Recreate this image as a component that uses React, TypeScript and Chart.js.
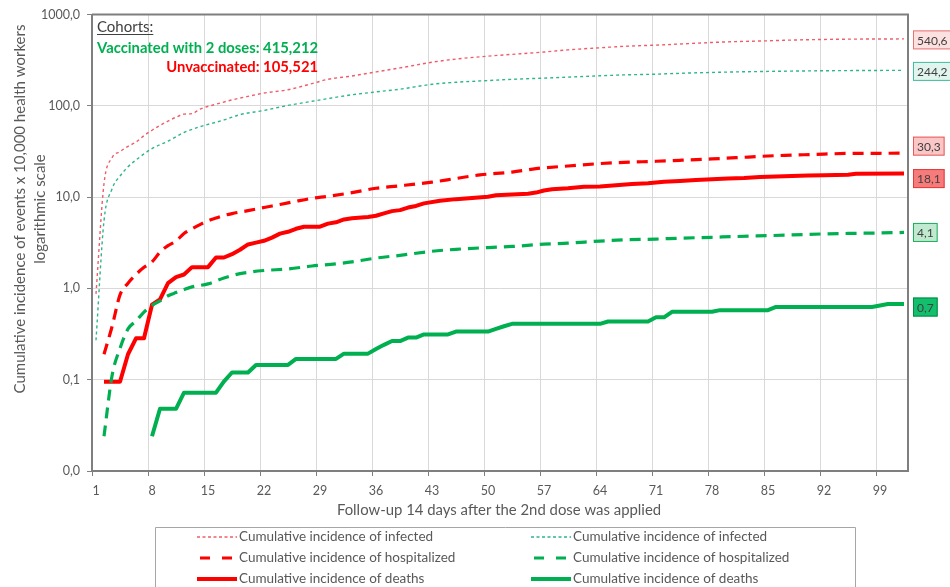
import { useEffect, useRef } from "react";
import { Chart, registerables } from "chart.js";

Chart.register(...registerables);

const FONT = "Lato, 'Liberation Sans', Arial, sans-serif";
const GREY_TEXT = "#595959";

// Axis ticks
const xTickDays = [1, 8, 15, 22, 29, 36, 43, 50, 57, 64, 71, 78, 85, 92, 99];
const yTickValues = [0.01, 0.1, 1, 10, 100, 1000];

// Texts
const yTitleLines = ["Cumulative incidence of events x 10,000 health workers", "logarithmic scale"];
const xTitle = "Follow-up 14 days after the 2nd dose was applied";
const cohortTitle = "Cohorts:";
const vaccinatedCohort = "Vaccinated with 2 doses: 415,212";
const unvaccinatedCohort = "Unvaccinated: 105,521";
const labelInfected = "Cumulative incidence of infected";
const labelHospitalized = "Cumulative incidence of hospitalized";
const labelDeaths = "Cumulative incidence of deaths";

// Unvaccinated cohort (per 10,000)
const unvacInfectedDays = [1, 2, 3, 4, 5, 6, 7, 8, 9, 10, 11, 12, 13, 14, 16, 18, 20, 22, 25, 28, 30, 33, 36, 39, 43, 46, 50, 53, 57, 60, 64, 67, 71, 74, 78, 81, 85, 88, 92, 95, 99, 102];
const unvacInfectedValues = [0.87, 14, 27, 31.5, 36, 40, 47, 54, 61, 68, 75, 81, 82, 92, 104, 116, 127, 138, 150, 175, 195, 212, 235, 260, 300, 325, 350, 366, 388, 410, 432, 448, 462, 475, 494, 505, 515, 525, 533, 537, 539, 540.6];

const unvacHospDays = [2, 3, 4, 5, 6, 7, 8, 9, 10, 11, 12, 13, 14, 15, 16, 17, 18, 20, 22, 24, 26, 28, 30, 33, 36, 39, 43, 46, 49, 53, 56, 60, 64, 67, 71, 74, 78, 81, 85, 88, 92, 95, 99, 102];
const unvacHospValues = [0.19, 0.38, 0.85, 1.14, 1.42, 1.7, 1.95, 2.5, 2.94, 3.3, 4.0, 4.5, 5.0, 5.5, 5.9, 6.3, 6.6, 7.1, 7.7, 8.3, 9.0, 9.7, 10.2, 11.2, 12.5, 13.3, 14.6, 16.0, 17.5, 18.8, 20.5, 21.9, 23.3, 24.0, 24.7, 25.3, 26.2, 27.0, 28.2, 28.8, 29.6, 30.1, 30.2, 30.3];

const unvacDeathDays = [2, 4, 5, 6, 7, 8, 9, 10, 11, 12, 13, 15, 16, 17, 18, 19, 20, 21, 22, 23, 24, 25, 26, 27, 29, 30, 31, 32, 33, 35, 36, 37, 38, 39, 40, 41, 42, 44, 46, 48, 50, 51, 53, 55, 56, 57, 58, 60, 62, 64, 66, 68, 70, 72, 74, 76, 78, 80, 82, 84, 86, 88, 90, 92, 95, 96, 102];
const unvacDeathValues = [0.095, 0.095, 0.19, 0.284, 0.284, 0.663, 0.758, 1.14, 1.33, 1.42, 1.71, 1.71, 2.18, 2.18, 2.37, 2.65, 3.03, 3.17, 3.32, 3.6, 3.98, 4.17, 4.5, 4.74, 4.74, 5.12, 5.3, 5.69, 5.88, 6.06, 6.25, 6.64, 7.02, 7.2, 7.68, 8.0, 8.54, 9.1, 9.5, 9.8, 10.1, 10.5, 10.7, 10.9, 11.2, 11.8, 12.2, 12.5, 13.0, 13.1, 13.5, 13.9, 14.2, 14.7, 15.0, 15.4, 15.7, 16.0, 16.2, 16.6, 16.8, 17.0, 17.2, 17.4, 17.6, 18.0, 18.1];

// Vaccinated cohort (per 10,000)
const vacInfectedDays = [1, 2, 3, 4, 5, 6, 8, 10, 12, 14, 17, 19, 22, 25, 28, 30, 33, 36, 39, 43, 46, 50, 53, 57, 60, 64, 67, 71, 74, 78, 81, 85, 88, 92, 95, 99, 102];
const vacInfectedValues = [0.27, 5.5, 12.3, 17, 21.5, 25.5, 34, 41, 51, 59, 70, 80, 89, 101, 112, 120, 132, 142, 152, 172, 181, 189, 195, 201, 206, 213, 218, 222, 227, 232, 235, 238, 240, 242, 243, 244, 244.2];

const vacHospDays = [2, 3, 4, 5, 6, 7, 8, 9, 10, 11, 12, 13, 15, 17, 19, 22, 25, 28, 30, 33, 36, 39, 43, 46, 50, 53, 57, 60, 64, 67, 71, 74, 78, 81, 85, 88, 92, 95, 99, 102];
const vacHospValues = [0.024, 0.11, 0.22, 0.36, 0.44, 0.55, 0.65, 0.73, 0.83, 0.9, 0.97, 1.04, 1.12, 1.3, 1.45, 1.57, 1.63, 1.76, 1.82, 1.95, 2.15, 2.3, 2.55, 2.68, 2.8, 2.88, 3.05, 3.13, 3.3, 3.4, 3.47, 3.55, 3.63, 3.7, 3.78, 3.85, 3.95, 4.0, 4.05, 4.1];

const vacDeathDays = [8, 9, 11, 12, 16, 17, 18, 20, 21, 25, 26, 31, 32, 35, 36, 37, 38, 39, 40, 41, 42, 45, 46, 50, 51, 52, 53, 64, 65, 70, 71, 72, 73, 78, 79, 85, 86, 98, 99, 100, 102];
const vacDeathValues = [0.024, 0.048, 0.048, 0.072, 0.072, 0.096, 0.12, 0.12, 0.145, 0.145, 0.169, 0.169, 0.193, 0.193, 0.217, 0.241, 0.265, 0.265, 0.289, 0.289, 0.313, 0.313, 0.337, 0.337, 0.361, 0.385, 0.409, 0.409, 0.434, 0.434, 0.482, 0.482, 0.554, 0.554, 0.578, 0.578, 0.626, 0.626, 0.65, 0.674, 0.674];

const RED = "#ff0000";
const RED_LIGHT = "#ef5d6a";
const GREEN = "#00b050";
const GREEN_LIGHT = "#2fb58e";

type SeriesStyle = {
  label: string;
  color: string;
  width: number;
  dash: number[];
  legendDash: number[];
  smooth: boolean;
  boxFill: string;
  boxBorder: string;
  boxNudge: number;
  legendCol: number;
  legendRow: number;
};

const pairs = (days: number[], values: number[]) => days.map((d, i) => ({ x: d, y: values[i] }));

const series: { days: number[]; values: number[]; style: SeriesStyle }[] = [
  { days: unvacInfectedDays, values: unvacInfectedValues, style: { label: labelInfected, color: RED_LIGHT, width: 1.4, dash: [3, 3], legendDash: [3, 2.5], smooth: true, boxFill: "#fde1e1", boxBorder: "#e67373", boxNudge: 1, legendCol: 0, legendRow: 0 } },
  { days: vacInfectedDays, values: vacInfectedValues, style: { label: labelInfected, color: GREEN_LIGHT, width: 1.4, dash: [3, 3], legendDash: [3, 2.5], smooth: true, boxFill: "#e1f5ee", boxBorder: "#3fbf9c", boxNudge: 1, legendCol: 1, legendRow: 0 } },
  { days: unvacHospDays, values: unvacHospValues, style: { label: labelHospitalized, color: RED, width: 3.2, dash: [11, 7], legendDash: [10, 12], smooth: true, boxFill: "#fbc6c6", boxBorder: "#e65a5a", boxNudge: -7, legendCol: 0, legendRow: 1 } },
  { days: vacHospDays, values: vacHospValues, style: { label: labelHospitalized, color: GREEN, width: 3.2, dash: [11, 7], legendDash: [10, 12], smooth: true, boxFill: "#bfeacf", boxBorder: "#1fae5c", boxNudge: 0, legendCol: 1, legendRow: 1 } },
  { days: unvacDeathDays, values: unvacDeathValues, style: { label: labelDeaths, color: RED, width: 4, dash: [], legendDash: [], smooth: false, boxFill: "#f77b7b", boxBorder: "#e23a3a", boxNudge: 5, legendCol: 0, legendRow: 2 } },
  { days: vacDeathDays, values: vacDeathValues, style: { label: labelDeaths, color: GREEN, width: 4, dash: [], legendDash: [], smooth: false, boxFill: "#12bf6c", boxBorder: "#038a45", boxNudge: 3, legendCol: 1, legendRow: 2 } },
];

const fmt = (v: number) => v.toFixed(1).replace(".", ",");

// Frame, value boxes, titles, cohort note and legend
const decorations = {
  id: "decorations",
  afterDatasetsDraw(chart: any) {
    const { ctx, chartArea } = chart;
    ctx.save();

    // top and right border of the plot
    ctx.strokeStyle = "#7f7f7f";
    ctx.lineWidth = 2;
    ctx.beginPath();
    ctx.moveTo(chartArea.left, chartArea.top);
    ctx.lineTo(chartArea.right, chartArea.top);
    ctx.lineTo(chartArea.right, chartArea.bottom);
    ctx.stroke();

    // end-of-line value boxes
    ctx.font = `12px ${FONT}`;
    ctx.textBaseline = "middle";
    ctx.textAlign = "left";
    chart.data.datasets.forEach((ds: any, i: number) => {
      const meta = chart.getDatasetMeta(i);
      const last = meta.data[meta.data.length - 1];
      const st: SeriesStyle = series[i].style;
      const text = fmt(ds.data[ds.data.length - 1].y);
      const w = ctx.measureText(text).width + 8;
      const h = 19;
      const x = chartArea.right + 5;
      const y = last.y + st.boxNudge;
      ctx.fillStyle = st.boxFill;
      ctx.fillRect(x, y - h / 2, w, h);
      ctx.strokeStyle = st.boxBorder;
      ctx.lineWidth = 1;
      ctx.strokeRect(x + 0.5, y - h / 2 + 0.5, w - 1, h - 1);
      ctx.fillStyle = "#404040";
      ctx.fillText(text, x + 4, y + 1);
    });

    // cohort note
    ctx.textAlign = "left";
    ctx.textBaseline = "alphabetic";
    ctx.font = `15px ${FONT}`;
    ctx.fillStyle = "#404040";
    ctx.fillText(cohortTitle, 97, 32);
    const cw = ctx.measureText(cohortTitle).width;
    ctx.fillRect(97, 34, cw, 1);
    ctx.font = `bold 14.8px ${FONT}`;
    ctx.fillStyle = GREEN;
    ctx.fillText(vaccinatedCohort, 97, 53);
    const vw = ctx.measureText(vaccinatedCohort).width;
    ctx.fillStyle = RED;
    ctx.textAlign = "right";
    ctx.fillText(unvaccinatedCohort, 97 + vw, 72);

    // axis titles
    ctx.fillStyle = GREY_TEXT;
    ctx.textAlign = "center";
    ctx.textBaseline = "middle";
    ctx.font = `14.9px ${FONT}`;
    ctx.fillText(xTitle, 499, 510);
    ctx.save();
    ctx.translate(20, 209);
    ctx.rotate(-Math.PI / 2);
    ctx.font = `15px ${FONT}`;
    ctx.fillText(yTitleLines[0], 0, 0);
    ctx.fillText(yTitleLines[1], 0, 20);
    ctx.restore();

    // legend
    ctx.strokeStyle = "#a6a6a6";
    ctx.lineWidth = 1;
    ctx.beginPath();
    ctx.moveTo(155.5, 600);
    ctx.lineTo(155.5, 527.5);
    ctx.lineTo(855.5, 527.5);
    ctx.lineTo(855.5, 600);
    ctx.stroke();
    const colX = [197, 531];
    const rowY = [537, 558, 579];
    ctx.font = `13.5px ${FONT}`;
    ctx.textAlign = "left";
    series.forEach(({ style }) => {
      const x0 = colX[style.legendCol];
      const y = rowY[style.legendRow];
      ctx.save();
      ctx.strokeStyle = style.color;
      ctx.lineWidth = style.width;
      ctx.setLineDash(style.legendDash);
      ctx.beginPath();
      ctx.moveTo(x0 + (style.legendDash.length === 2 && style.legendDash[0] > 5 ? 3 : 0), y);
      ctx.lineTo(x0 + 40, y);
      ctx.stroke();
      ctx.restore();
      ctx.fillStyle = GREY_TEXT;
      ctx.fillText(style.label, x0 + 42, y);
    });

    ctx.restore();
  },
};

export default function App() {
  const canvasRef = useRef<HTMLCanvasElement | null>(null);

  useEffect(() => {
    if (!canvasRef.current) return;
    const chart = new Chart(canvasRef.current, {
      type: "line",
      data: {
        datasets: series.map(({ days, values, style }) => ({
          label: style.label,
          data: pairs(days, values),
          borderColor: style.color,
          borderWidth: style.width,
          borderDash: style.dash,
          pointRadius: 0,
          fill: false,
          cubicInterpolationMode: style.smooth ? "monotone" : "default",
          tension: 0,
          borderCapStyle: "butt",
          borderJoinStyle: "round",
        })),
      },
      options: {
        animation: false,
        responsive: false,
        devicePixelRatio: 1,
        layout: { padding: { left: 0, right: 42, top: 13, bottom: 0 } },
        plugins: { legend: { display: false }, tooltip: { enabled: false } },
        scales: {
          x: {
            type: "linear",
            min: 0.5,
            max: 102.5,
            afterBuildTicks: (s: any) => {
              s.ticks = xTickDays.map((d) => ({ value: d - 0.5 }));
            },
            afterFit: (s: any) => {
              s.height = 116;
            },
            ticks: {
              callback: (v: any) => String(Math.round(Number(v) + 0.5)),
              labelOffset: 4,
              padding: 7,
              maxRotation: 0,
              autoSkip: false,
              color: GREY_TEXT,
              font: { family: FONT, size: 12.5 },
            },
            grid: { color: "#d9d9d9", tickColor: "#7f7f7f", tickLength: 5, lineWidth: 1 },
            border: { color: "#7f7f7f", width: 2 },
          },
          y: {
            type: "logarithmic",
            min: 0.01,
            max: 1000,
            afterBuildTicks: (s: any) => {
              s.ticks = yTickValues.map((v) => ({ value: v }));
            },
            afterFit: (s: any) => {
              s.width = 92;
            },
            ticks: {
              callback: (v: any) => (Number(v) <= 0.01 ? "0,0" : fmt(Number(v))),
              padding: 7,
              autoSkip: false,
              color: GREY_TEXT,
              font: { family: FONT, size: 12.5 },
            },
            grid: { color: "#d9d9d9", tickColor: "#7f7f7f", tickLength: 5, lineWidth: 1 },
            border: { color: "#7f7f7f", width: 2 },
          },
        },
      },
      plugins: [decorations],
    } as any);
    return () => chart.destroy();
  }, []);

  return (
    <div style={{ position: "absolute", left: 0, top: 0, width: 950, height: 587, background: "#ffffff" }}>
      <canvas ref={canvasRef} width={950} height={587} style={{ width: 950, height: 587, display: "block" }} />
    </div>
  );
}
